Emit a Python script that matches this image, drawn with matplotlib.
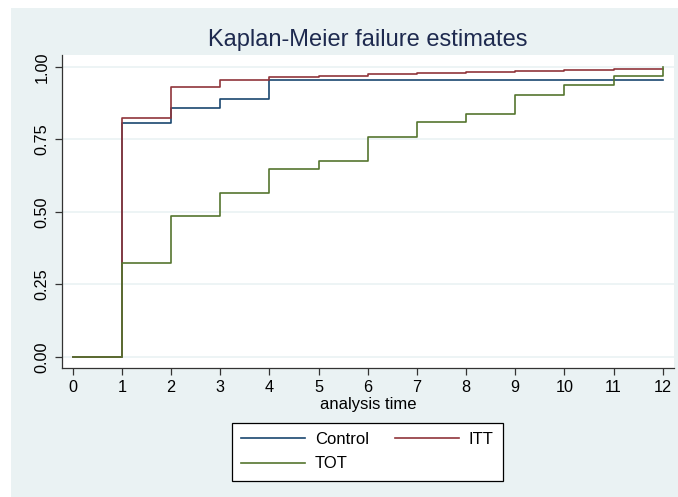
import numpy as np
import matplotlib
matplotlib.use("Agg")
from matplotlib import pyplot as plt
from matplotlib.patches import Rectangle

plt.rcParams["font.family"] = ["Liberation Sans", "DejaVu Sans"]

# Kaplan-Meier failure estimates (step values after each time)
time = [0, 1, 2, 3, 4, 5, 6, 7, 8, 9, 10, 11, 12]
control = [0.0, 0.808, 0.859, 0.889, 0.954, 0.954, 0.954, 0.954, 0.954, 0.954, 0.954, 0.954, 0.956]
itt = [0.0, 0.825, 0.932, 0.954, 0.965, 0.968, 0.975, 0.978, 0.982, 0.986, 0.989, 0.993, 0.994]
tot = [0.0, 0.323, 0.486, 0.566, 0.648, 0.676, 0.758, 0.810, 0.838, 0.903, 0.936, 0.968, 0.998]

x_ticks = list(range(0, 13))
y_ticks = [0.0, 0.25, 0.5, 0.75, 1.0]
y_labels = ["0.00", "0.25", "0.50", "0.75", "1.00"]

bg = "#EAF2F3"
colors = {"Control": "#1A476F", "ITT": "#90353B", "TOT": "#55752F"}

fig = plt.figure(figsize=(6.78, 4.97), dpi=100, facecolor="white")
# stata-style graph region (light blue-gray), white margin top/left
fig.patches.append(Rectangle((11 / 678, 0), 667 / 678, 489 / 497,
                             transform=fig.transFigure, facecolor=bg,
                             edgecolor="none", zorder=-10))

ax = fig.add_axes([62 / 678, (497 - 367.7) / 497, 612 / 678, 312.7 / 497])
ax.set_zorder(1)
ax.set_facecolor("white")

lw = 1.2
l_ctrl, = ax.step(time, control, where="post", color=colors["Control"], lw=lw, label="Control")
l_itt, = ax.step(time, itt, where="post", color=colors["ITT"], lw=lw, label="ITT")
l_tot, = ax.step(time, tot, where="post", color=colors["TOT"], lw=lw, label="TOT")

ax.set_xlim(-0.218, 12.23)
ax.set_ylim(-0.037, 1.041)
ax.set_xticks(x_ticks)
ax.set_yticks(y_ticks)
ax.set_yticklabels(y_labels, rotation=90, va="center")

for y in y_ticks:
    ax.axhline(y, color=bg, lw=1.2, zorder=0.5)

for side in ["top", "right"]:
    ax.spines[side].set_visible(False)
for side in ["left", "bottom"]:
    ax.spines[side].set_color("#333333")
    ax.spines[side].set_linewidth(0.9)

ax.tick_params(axis="both", direction="out", length=5, width=0.9, color="#333333",
               labelsize=11.7, labelcolor="black")
ax.tick_params(axis="x", pad=4)
ax.tick_params(axis="y", pad=4)

ax.set_xlabel("analysis time", fontsize=12, labelpad=1)
ax.set_title("Kaplan-Meier failure estimates", fontsize=17, color="#1E2A4F", pad=6.5)

# column-major fill -> Control/TOT in col 1, ITT in col 2
leg = fig.legend([l_ctrl, l_tot, l_itt], ["Control", "TOT", "ITT"],
                 ncol=2, loc="upper center", bbox_to_anchor=(367.5 / 678, (497 - 423) / 497),
                 borderaxespad=0, fontsize=12, frameon=True, fancybox=False,
                 edgecolor="black", facecolor="white", framealpha=1, handlelength=3.8,
                 columnspacing=1.6, labelspacing=0.55, borderpad=0.55, handletextpad=0.6)
leg.get_frame().set_linewidth(0.9)
leg.set_zorder(2)

fig.savefig("out.png", dpi=100, facecolor=fig.get_facecolor())
